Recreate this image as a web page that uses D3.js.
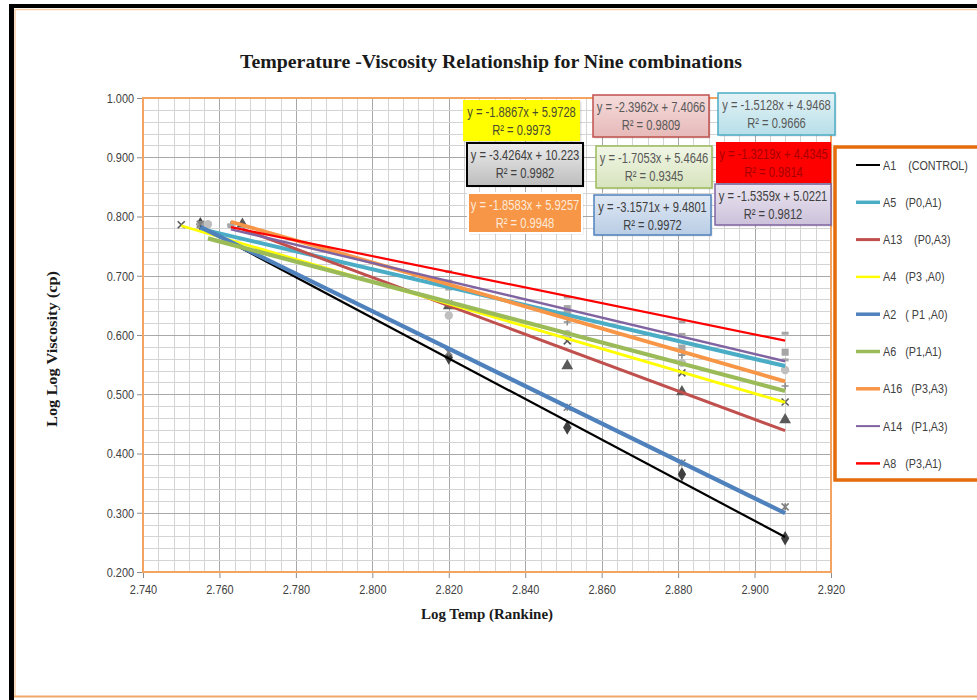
<!DOCTYPE html>
<html>
<head>
<meta charset="utf-8">
<script src="https://cdn.jsdelivr.net/npm/d3@7"></script>
<style>
  html, body { margin: 0; padding: 0; background: #ffffff; }
  svg { display: block; }
  text { white-space: pre; }
</style>
</head>
<body>
<svg id="chart" width="977" height="700"></svg>
<script>
// ---- Data ----------------------------------------------------------------
const seriesCodes  = ["A1", "A5", "A13", "A4", "A2", "A6", "A16", "A14", "A8"];
const seriesLabels = ["A1    (CONTROL)", "A5   (P0,A1)", "A13    (P0,A3)", "A4   (P3 ,A0)",
                      "A2   ( P1 ,A0)", "A6   (P1,A1)", "A16   (P3,A3)", "A14   (P1,A3)", "A8   (P3,A1)"];

// log temperature (Rankine) of each measurement
const logTemp = [
  [2.755, 2.820, 2.851, 2.881, 2.908],
  [2.755, 2.820, 2.851, 2.881, 2.908],
  [2.766, 2.820, 2.851, 2.881, 2.908],
  [2.750, 2.820, 2.851, 2.881, 2.908],
  [2.755, 2.820, 2.851, 2.881, 2.908],
  [2.757, 2.820, 2.851, 2.881, 2.908],
  [2.763, 2.820, 2.851, 2.881, 2.908],
  [2.763, 2.820, 2.851, 2.881, 2.908],
  [2.763, 2.820, 2.851, 2.881, 2.908]
];
// log log viscosity (cp) of each measurement
const logLogVisc = [
  [0.787, 0.562, 0.444, 0.365, 0.257],
  [0.786, 0.681, 0.641, 0.578, 0.571],
  [0.787, 0.649, 0.548, 0.504, 0.457],
  [0.786, 0.652, 0.590, 0.536, 0.487],
  [0.787, 0.571, 0.478, 0.384, 0.310],
  [0.787, 0.633, 0.602, 0.553, 0.541],
  [0.786, 0.685, 0.622, 0.566, 0.514],
  [0.783, 0.691, 0.648, 0.601, 0.558],
  [0.786, 0.707, 0.664, 0.622, 0.603]
];

// linear trendlines: y = slope * x + intercept
const slopes     = [-3.4264, -1.5128, -2.3962, -1.8867, -3.1571, -1.7053, -1.8583, -1.5359, -1.3219];
const intercepts = [10.223, 4.9468, 7.4066, 5.9728, 9.4801, 5.4646, 5.9257, 5.0221, 4.4345];
const rSquared   = [0.9982, 0.9666, 0.9809, 0.9973, 0.9972, 0.9345, 0.9948, 0.9812, 0.9814];

const xTicks = [2.740, 2.760, 2.780, 2.800, 2.820, 2.840, 2.860, 2.880, 2.900, 2.920];
const yTicks = [0.200, 0.300, 0.400, 0.500, 0.600, 0.700, 0.800, 0.900, 1.000];

const chartTitle = "Temperature -Viscosity Relationship for Nine combinations";
const xTitle = "Log Temp (Rankine)";
const yTitle = "Log Log Viscosity (cp)";

// ---- Styles --------------------------------------------------------------
const lineColors = ["#000000", "#4BACC6", "#C0504D", "#FFFF00", "#4F81BD", "#9BBB59", "#F79646", "#8064A2", "#FF0000"];
const lineWidths = [2.2, 4, 3, 2.8, 4.2, 4.2, 3.8, 2.4, 2.2];
const legendWidths = [2, 3.5, 3, 2.5, 3.5, 3.5, 3.5, 2, 2.5];
const markerShapes = ["diamond", "square", "triangle", "x", "star", "circle", "plus", "dash", "dash"];
const markerColors = ["#404040", "#a6a6a6", "#595959", "#595959", "#7f7f7f", "#bfbfbf", "#8c8c8c", "#a6a6a6", "#a6a6a6"];

// equation label boxes: [x, y, w, h, fillTop, fillBottom, stroke, strokeWidth, textColor]
const eqBoxes = [
  [467, 143, 116, 43, "#ececec", "#bdbdbd", "#000000", 2,   "#404040"], // A1
  [718,  93, 117, 42, "#e4f3f7", "#b7dee8", "#4BACC6", 1.5, "#595959"], // A5
  [593,  95, 116, 42, "#f6dcdc", "#e6b9b8", "#C0504D", 1.5, "#595959"], // A13
  [463, 100, 117, 41, "#FFFF00", "#FFFF00", "none",    0,   "#4a4a30"], // A4
  [594, 195, 117, 40, "#dfe8f4", "#b9cde5", "#4F81BD", 1.5, "#404040"], // A2
  [596, 146, 116, 42, "#f1f6e6", "#d7e4bd", "#9BBB59", 1.5, "#595959"], // A6
  [468, 193, 114, 40, "#F79646", "#F79646", "#ffffff", 2,   "#fde9d9"], // A16
  [715, 184, 116, 41, "#ebe6f1", "#ccc1da", "#8064A2", 1.5, "#404040"], // A14
  [716, 142, 115, 41, "#FF0000", "#FF0000", "none",    0,   "#a80000"]  // A8
];

const sansFont = "'Liberation Sans', Arial, sans-serif";
const serifFont = "'Liberation Serif', 'Times New Roman', serif";

// ---- Layout --------------------------------------------------------------
const svg = d3.select("#chart");
const plot = { left: 143, right: 831, top: 98, bottom: 572 };

const x = d3.scaleLinear().domain([2.74, 2.92]).range([plot.left, plot.right]);
const y = d3.scaleLinear().domain([0.2, 1.0]).range([plot.bottom, plot.top]);

// outer frame
svg.append("rect").attr("x", 0).attr("y", 0).attr("width", 977).attr("height", 700).attr("fill", "#ffffff");
svg.append("line").attr("x1", 9).attr("x2", 977).attr("y1", 6).attr("y2", 6)
  .attr("stroke", "#000").attr("stroke-width", 4);
svg.append("line").attr("x1", 11.5).attr("x2", 11.5).attr("y1", 4).attr("y2", 700)
  .attr("stroke", "#000").attr("stroke-width", 5);
svg.append("line").attr("x1", 15).attr("x2", 977).attr("y1", 9.5).attr("y2", 9.5)
  .attr("stroke", "#f6cfa8").attr("stroke-width", 1.5);
svg.append("line").attr("x1", 15).attr("x2", 15).attr("y1", 9).attr("y2", 697)
  .attr("stroke", "#f6cfa8").attr("stroke-width", 1.5);
svg.append("line").attr("x1", 14).attr("x2", 977).attr("y1", 696.5).attr("y2", 696.5)
  .attr("stroke", "#f0a868").attr("stroke-width", 2);

// gridlines
const grid = svg.append("g");
const xMinor = d3.range(0, 46).map(i => 2.74 + i * 0.004);
const yMinor = d3.range(0, 41).map(i => 0.2 + i * 0.02);
grid.selectAll(".vx").data(xMinor).join("line")
  .attr("x1", d => Math.round(x(d)) + 0.5).attr("x2", d => Math.round(x(d)) + 0.5)
  .attr("y1", plot.top).attr("y2", plot.bottom)
  .attr("stroke", (d, i) => i % 5 === 0 ? "#a8a8a8" : "#d4d4d4").attr("stroke-width", 1);
grid.selectAll(".hy").data(yMinor).join("line")
  .attr("x1", plot.left).attr("x2", plot.right)
  .attr("y1", d => Math.round(y(d)) + 0.5).attr("y2", d => Math.round(y(d)) + 0.5)
  .attr("stroke", (d, i) => i % 5 === 0 ? "#a8a8a8" : "#d4d4d4").attr("stroke-width", 1);

// axes (labels drawn slightly condensed)
const yAxis = svg.append("g").attr("transform", `translate(${plot.left},0)`)
  .call(d3.axisLeft(y).tickValues(yTicks).tickFormat(d3.format(".3f")).tickSize(6).tickPadding(5));
const xAxis = svg.append("g").attr("transform", `translate(0,${plot.bottom})`)
  .call(d3.axisBottom(x).tickValues(xTicks).tickFormat(d3.format(".3f")).tickSize(6).tickPadding(6));
[xAxis, yAxis].forEach(a => {
  a.select(".domain").remove();
  a.selectAll(".tick line").attr("stroke", "#8c8c8c");
  a.selectAll(".tick text").attr("font-family", sansFont).attr("font-size", 13.5)
    .attr("fill", "#404040").attr("transform", "scale(0.81,1)");
});

// plot border
svg.append("rect").attr("x", plot.left).attr("y", plot.top)
  .attr("width", plot.right - plot.left).attr("height", plot.bottom - plot.top)
  .attr("fill", "none").attr("stroke", "#f4a460").attr("stroke-width", 2);

// markers
function markerPath(shape) {
  const s = 7;
  switch (shape) {
    case "diamond": return d3.symbol(d3.symbolDiamond, 60)();
    case "square": return d3.symbol(d3.symbolSquare, 50)();
    case "triangle": return d3.symbol(d3.symbolTriangle, 60)();
    case "circle": return d3.symbol(d3.symbolCircle, 55)();
    case "x": return `M${-s/2},${-s/2}L${s/2},${s/2}M${-s/2},${s/2}L${s/2},${-s/2}`;
    case "star": return `M${-s/2},${-s/2}L${s/2},${s/2}M${-s/2},${s/2}L${s/2},${-s/2}M0,${-s/2}L0,${s/2}`;
    case "plus": return `M${-s/2},0L${s/2},0M0,${-s/2}L0,${s/2}`;
    case "dash": return `M${-s/2},0L${s/2},0`;
  }
}
const stroked = new Set(["x", "star", "plus", "dash"]);
const markers = svg.append("g");
seriesCodes.forEach((code, si) => {
  const pts = logTemp[si].map((t, j) => [t, logLogVisc[si][j]]);
  markers.append("g").selectAll("path").data(pts).join("path")
    .attr("transform", d => `translate(${x(d[0])},${y(d[1])})`)
    .attr("d", markerPath(markerShapes[si]))
    .attr("fill", stroked.has(markerShapes[si]) ? "none" : markerColors[si])
    .attr("stroke", stroked.has(markerShapes[si]) ? markerColors[si] : "none")
    .attr("stroke-width", markerShapes[si] === "dash" ? 3 : 1.6);
});

// trendlines over each series' temperature range
const trend = svg.append("g");
seriesCodes.forEach((code, si) => {
  const [x0, x1] = d3.extent(logTemp[si]);
  const ends = [x0, x1].map(t => [t, slopes[si] * t + intercepts[si]]);
  trend.append("path")
    .attr("d", d3.line().x(d => x(d[0])).y(d => y(d[1]))(ends))
    .attr("fill", "none").attr("stroke", lineColors[si])
    .attr("stroke-width", lineWidths[si]).attr("stroke-linecap", "butt");
});

// equation labels
const defs = svg.append("defs");
const eq = svg.append("g");
seriesCodes.forEach((code, si) => {
  const [bx, by, bw, bh, f0, f1, st, sw, tc] = eqBoxes[si];
  const gid = "eqfill" + si;
  const lg = defs.append("linearGradient").attr("id", gid).attr("x1", 0).attr("y1", 0).attr("x2", 0).attr("y2", 1);
  lg.append("stop").attr("offset", "0%").attr("stop-color", f0);
  lg.append("stop").attr("offset", "100%").attr("stop-color", f1);
  eq.append("rect").attr("x", bx + 1.5).attr("y", by + 1.5).attr("width", bw).attr("height", bh)
    .attr("fill", "#000").attr("opacity", 0.12);
  eq.append("rect").attr("x", bx).attr("y", by).attr("width", bw).attr("height", bh)
    .attr("fill", `url(#${gid})`).attr("stroke", st).attr("stroke-width", sw);
  const t = eq.append("g").attr("transform", `translate(${bx + bw / 2},${by}) scale(0.77,1)`)
    .append("text").attr("text-anchor", "middle")
    .attr("font-family", sansFont).attr("font-size", 14.5).attr("fill", tc);
  t.append("tspan").attr("x", 0).attr("y", 17.5)
    .text(`y = ${slopes[si]}x + ${intercepts[si]}`);
  t.append("tspan").attr("x", 0).attr("y", 35)
    .text(`R\u00b2 = ${rSquared[si]}`);
});

// legend
const leg = svg.append("g");
leg.append("rect").attr("x", 835).attr("y", 147).attr("width", 170).attr("height", 333)
  .attr("fill", "#ffffff").attr("stroke", "#e46c0a").attr("stroke-width", 3.5);
seriesCodes.forEach((code, si) => {
  const ly = 165 + si * 37.3;
  leg.append("line").attr("x1", 856).attr("x2", 880).attr("y1", ly).attr("y2", ly)
    .attr("stroke", lineColors[si]).attr("stroke-width", legendWidths[si]);
  leg.append("g").attr("transform", `translate(883,${ly + 4.5}) scale(0.81,1)`)
    .append("text").attr("x", 0).attr("y", 0)
    .attr("font-family", sansFont).attr("font-size", 13.3).attr("fill", "#404040")
    .text(seriesLabels[si]);
});

// titles
svg.append("text").attr("x", 491).attr("y", 68).attr("text-anchor", "middle")
  .attr("font-family", serifFont).attr("font-weight", "bold").attr("font-size", 19.5)
  .attr("textLength", 502).attr("lengthAdjust", "spacingAndGlyphs")
  .attr("fill", "#1a1a1a").text(chartTitle);
svg.append("text").attr("x", 487).attr("y", 619).attr("text-anchor", "middle")
  .attr("font-family", serifFont).attr("font-weight", "bold").attr("font-size", 15.5)
  .attr("textLength", 132).attr("lengthAdjust", "spacingAndGlyphs")
  .attr("fill", "#1a1a1a").text(xTitle);
svg.append("text").attr("transform", "translate(57,349) rotate(-90)").attr("text-anchor", "middle")
  .attr("font-family", serifFont).attr("font-weight", "bold").attr("font-size", 15.5)
  .attr("textLength", 156).attr("lengthAdjust", "spacingAndGlyphs")
  .attr("fill", "#1a1a1a").text(yTitle);
</script>
</body>
</html>
